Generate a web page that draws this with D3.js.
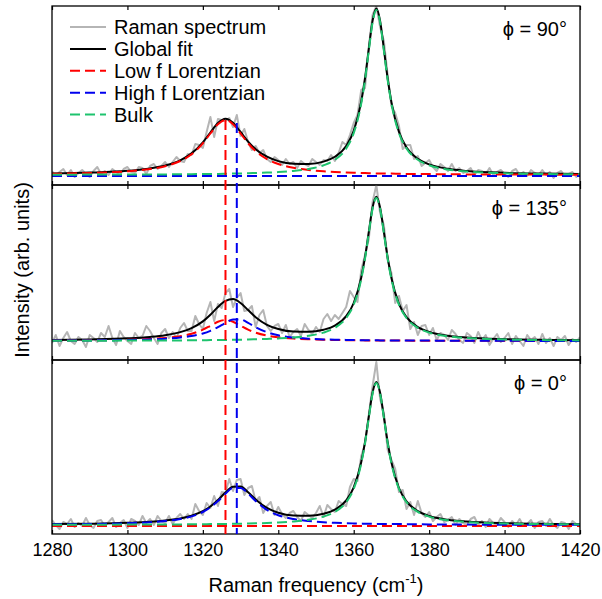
<!DOCTYPE html>
<html>
<meta charset="utf-8">
<style>
body { margin: 0; background: #fff; }
text { font-family: "Liberation Sans", Arial, Helvetica, sans-serif; fill: #000; }
.frame { fill: none; stroke: #000; stroke-width: 1.3px; }
.line { fill: none; stroke-width: 2px; stroke-linejoin: round; }
.axis path { display: none; }
.axis line { stroke: #000; stroke-width: 1.2px; }
</style>
<body>
<script src="https://d3js.org/d3.v7.min.js"></script>
<script>

// ---- data (intensity in arb. units) ----
var xTicks = [1280, 1300, 1320, 1340, 1360, 1380, 1400, 1420];
var specFreq = d3.range(1280, 1421, 1);
var fitFreq = [1280, 1290, 1300, 1306, 1310, 1314, 1317, 1320, 1322, 1324,
               1326, 1328, 1330, 1332, 1334, 1337, 1340, 1344, 1348, 1352,
               1355, 1358, 1360, 1362, 1363, 1364, 1365, 1366, 1367, 1368,
               1369, 1370, 1372, 1374, 1377, 1380, 1385, 1390, 1400, 1410, 1420];
var flatFreq = [1280, 1420];

// phi = 90
var spec90 = [4, -1, 3, 6, 0, 5, -2, 2, 5, 1,
              -2, 4, 8, 1, 4, 0, 6, 3, 0, 6,
              8, 3, 2, 8, 7, 1, 9, 11, 6, 9,
              13, 8, 13, 18, 14, 13, 21, 20, 31, 30,
              27, 43, 58, 38, 56, 55, 54, 57, 48, 60,
              39, 46, 33, 25, 29, 22, 25, 16, 13, 18,
              15, 10, 16, 11, 13, 7, 14, 11, 9, 16,
              13, 10, 15, 14, 20, 14, 22, 33, 30, 40,
              52, 60, 85, 87, 128, 160, 169, 148, 134, 100,
              69, 62, 49, 26, 30, 30, 16, 19, 9, 12,
              15, 8, 4, 11, 8, 4, 11, 4, 7, 2,
              4, 7, 0, 5, 4, 1, 7, 0, 3, 5,
              1, -2, 4, 6, 0, 3, -1, 5, 2, 0,
              5, 0, 3, -3, 2, 4, -1, 1, 3, -2,
              2];
var fit90 = [1.5, 2.4, 4.2, 6.6, 9.5, 14.7, 21.6, 32.7, 42.5, 52.0,
             56.3, 52.2, 43.0, 33.4, 25.8, 18.3, 13.9, 11.3, 11.1, 13.4,
             18.2, 29.0, 44.1, 73.5, 97.0, 126.2, 154.2, 166.6, 154.1, 125.9,
             96.5, 72.9, 43.1, 27.6, 16.2, 10.6, 6.2, 4.1, 2.2, 1.4, 1.0];
var low90 = [1.2, 2.0, 3.7, 6.0, 8.8, 14.0, 20.7, 31.7, 41.5, 50.8,
             55.0, 50.8, 41.5, 31.7, 23.8, 15.9, 11.0, 7.2, 5.1, 3.7,
             3.0, 2.5, 2.2, 2.0, 1.9, 1.8, 1.7, 1.6, 1.6, 1.5,
             1.4, 1.4, 1.2, 1.1, 1.0, 0.9, 0.8, 0.6, 0.5, 0.4, 0.3];
var high90 = [-1, -1];
var bulk90 = [0.3, 0.4, 0.5, 0.6, 0.6, 0.7, 0.8, 1.0, 1.0, 1.1,
              1.3, 1.4, 1.6, 1.7, 2.0, 2.4, 2.9, 4.1, 6.0, 9.7,
              15.2, 26.5, 41.9, 71.6, 95.1, 124.4, 152.6, 165, 152.6, 124.4,
              95.1, 71.6, 41.9, 26.5, 15.2, 9.7, 5.4, 3.4, 1.7, 1.0, 0.7];

// phi = 135
var spec135 = [-2, 6, -5, 3, 9, 0, -3, 4, 1, -6,
               6, 3, -1, 8, 4, 15, 3, -4, 10, 4,
               0, -3, 8, 3, 5, 15, 10, 3, -3, 8,
               12, 3, 9, 3, 13, 18, 10, 10, 25, 17,
               12, 28, 39, 20, 37, 33, 48, 52, 34, 43,
               48, 30, 31, 35, 14, 26, 31, 15, 10, 15,
               17, 8, 16, 4, 9, 12, 5, 17, 11, 7,
               14, 9, 22, 27, 20, 26, 22, 28, 34, 50,
               44, 39, 71, 86, 102, 139, 156, 128, 116, 81,
               68, 38, 45, 30, 36, 12, 19, 6, 15, 16,
               6, 13, 1, 8, 6, 1, 11, 7, 1, -2,
               8, 5, -2, 9, 1, 6, -4, 2, 7, -1,
               3, 8, -3, 5, 0, -5, 6, 1, 4, -3,
               7, -2, 3, -5, 4, 1, 5, -4, 2, -1,
               4];
var fit135 = [1.0, 1.6, 2.7, 4.1, 5.8, 8.9, 12.9, 19.6, 26.3, 34.0,
              40.2, 41.9, 38.0, 30.9, 23.8, 16.2, 12.0, 9.4, 9.2, 11.3,
              15.4, 24.9, 38.0, 63.5, 83.8, 109.1, 133.5, 144.2, 133.4, 108.9,
              83.5, 63.0, 37.2, 23.8, 13.9, 9.1, 5.2, 3.4, 1.8, 1.2, 0.8];
var low135 = [0.4, 0.7, 1.2, 2.0, 3.0, 4.8, 7.2, 11.3, 15.2, 19.2,
              21, 19.2, 15.2, 11.3, 8.4, 5.4, 3.7, 2.4, 1.7, 1.2,
              1.0, 0.8, 0.7, 0.7, 0.6, 0.6, 0.6, 0.5, 0.5, 0.5,
              0.5, 0.5, 0.4, 0.4, 0.3, 0.3, 0.3, 0.2, 0.2, 0.1, 0.1];
var high135 = [0.4, 0.6, 1.1, 1.6, 2.3, 3.5, 5.0, 7.5, 10.2, 13.8,
               18.1, 21.5, 21.5, 18.1, 13.8, 8.8, 5.7, 3.5, 2.3, 1.6,
               1.3, 1.1, 0.9, 0.8, 0.8, 0.7, 0.7, 0.7, 0.6, 0.6,
               0.6, 0.5, 0.5, 0.5, 0.4, 0.4, 0.3, 0.3, 0.2, 0.1, 0.1];
var bulk135 = [0.2, 0.3, 0.4, 0.5, 0.6, 0.6, 0.7, 0.8, 0.9, 1.0,
               1.1, 1.2, 1.3, 1.5, 1.7, 2.1, 2.6, 3.5, 5.2, 8.4,
               13.2, 23.0, 36.3, 62.0, 82.4, 107.8, 132.2, 143, 132.2, 107.8,
               82.4, 62.0, 36.3, 23.0, 13.2, 8.4, 4.7, 3.0, 1.5, 0.9, 0.6];

// phi = 0
var spec0 = [5, 0, -4, 3, 1, 6, -2, 2, -1, 7,
             0, -3, 4, 5, -1, 3, 7, -2, 2, 5,
             -3, 6, 4, 0, 9, 2, 6, 0, 9, 4,
             2, 9, 1, 7, 11, 6, 11, 6, 21, 14,
             10, 22, 17, 29, 19, 33, 32, 46, 34, 45,
             46, 30, 37, 39, 24, 28, 12, 19, 23, 10,
             18, 11, 7, 12, 14, 8, 4, 13, 10, 7,
             12, 19, 8, 20, 16, 13, 24, 21, 19, 38,
             46, 44, 69, 81, 110, 139, 163, 126, 112, 75,
             65, 56, 33, 35, 16, 23, 10, 24, 12, 8,
             13, 4, 8, 11, 3, 5, 8, 0, 6, 2,
             0, 6, 8, 0, 4, -2, 6, 2, 0, 7,
             3, -2, 4, 0, 6, -1, 1, 5, -3, 3,
             4, -1, 6, 0, -3, 3, 2, -4, 4, 1,
             -2];
var fit0 = [0.9, 1.3, 2.2, 3.3, 4.6, 6.6, 9.3, 13.8, 18.5, 24.9,
            32.4, 38.3, 38.4, 32.8, 25.6, 17.1, 12.3, 9.5, 9.2, 11.2,
            15.3, 24.6, 37.7, 63.0, 83.2, 108.3, 132.5, 143.1, 132.4, 108.0,
            82.9, 62.5, 37.0, 23.6, 13.8, 9.0, 5.2, 3.4, 1.8, 1.2, 0.8];
var low0 = [-1, -1];
var high0 = [0.7, 1.0, 1.8, 2.8, 4.0, 6.0, 8.6, 13.0, 17.6, 23.9,
             31.3, 37.1, 37.1, 31.3, 23.9, 15.1, 9.8, 6.0, 4.0, 2.8,
             2.2, 1.8, 1.6, 1.4, 1.3, 1.3, 1.2, 1.1, 1.1, 1.0,
             1.0, 0.9, 0.9, 0.8, 0.7, 0.6, 0.5, 0.4, 0.3, 0.2, 0.2];
var bulk0 = [0.2, 0.3, 0.4, 0.5, 0.6, 0.6, 0.7, 0.8, 0.9, 1.0,
             1.1, 1.2, 1.3, 1.5, 1.7, 2.0, 2.5, 3.5, 5.2, 8.4,
             13.1, 22.8, 36.1, 61.6, 81.9, 107.0, 131.3, 142, 131.3, 107.0,
             81.9, 61.6, 36.1, 22.8, 13.1, 8.4, 4.7, 3.0, 1.5, 0.9, 0.6];

// peak positions of the two Lorentzians (marker lines), height in top panel units
var markFreq = [1326, 1329];
var markTop = [55, 52];

var panelLabels = ["\u03D5 = 90\u00B0", "\u03D5 = 135\u00B0", "\u03D5 = 0\u00B0"];
var legendLabels = ["Raman spectrum", "Global fit", "Low f Lorentzian", "High f Lorentzian", "Bulk"];

// ---- styles / layout ----
var colors = { spec: "#b5b5b5", fit: "#000000", low: "#ff0000", high: "#0000ee", bulk: "#1ec36e" };
var dash = "10,5";
var left = 52, right = 580;
var layout = [
  { top: 6,   bottom: 185, domain: [-10, 169] },
  { top: 185, bottom: 360, domain: [-19, 156] },
  { top: 360, bottom: 534, domain: [-9, 165] }
];

var panels = [
  { label: panelLabels[0], spec: spec90, fit: fit90, low: low90, lowX: fitFreq, high: high90, highX: flatFreq, bulk: bulk90 },
  { label: panelLabels[1], spec: spec135, fit: fit135, low: low135, lowX: fitFreq, high: high135, highX: fitFreq, bulk: bulk135 },
  { label: panelLabels[2], spec: spec0, fit: fit0, low: low0, lowX: flatFreq, high: high0, highX: fitFreq, bulk: bulk0 }
];

var svg = d3.select("body").append("svg")
    .attr("width", 602)
    .attr("height", 599);

var x = d3.scaleLinear().domain([1280, 1420]).range([left, right]);

function zip(xs, ys) {
  return ys.map(function(v, i) { return [xs[i], v]; });
}

var yScales = [];

panels.forEach(function(p, i) {
  var L = layout[i];
  var y = d3.scaleLinear().domain(L.domain).range([L.bottom, L.top]);
  yScales.push(y);

  var clipId = "clip" + i;
  svg.append("clipPath").attr("id", clipId)
    .append("rect")
      .attr("x", left).attr("y", L.top)
      .attr("width", right - left).attr("height", L.bottom - L.top);

  var g = svg.append("g").attr("clip-path", "url(#" + clipId + ")");

  var raw = d3.line()
      .x(function(d) { return x(d[0]); })
      .y(function(d) { return y(d[1]); });
  var smooth = d3.line()
      .curve(d3.curveMonotoneX)
      .x(function(d) { return x(d[0]); })
      .y(function(d) { return y(d[1]); });

  g.append("path").attr("class", "line")
      .style("stroke", colors.spec)
      .attr("d", raw(zip(specFreq, p.spec)));
  g.append("path").attr("class", "line")
      .style("stroke", colors.fit)
      .attr("d", smooth(zip(fitFreq, p.fit)));
  g.append("path").attr("class", "line")
      .style("stroke", colors.low).style("stroke-dasharray", dash)
      .attr("d", smooth(zip(p.lowX, p.low)));
  g.append("path").attr("class", "line")
      .style("stroke", colors.high).style("stroke-dasharray", dash)
      .attr("d", smooth(zip(p.highX, p.high)));
  g.append("path").attr("class", "line")
      .style("stroke", colors.bulk).style("stroke-dasharray", dash)
      .attr("d", smooth(zip(fitFreq, p.bulk)));

  // inward ticks top and bottom
  svg.append("g").attr("class", "axis")
      .attr("transform", "translate(0," + L.top + ")")
      .call(d3.axisTop(x).tickValues(xTicks).tickSizeInner(-4).tickSizeOuter(0).tickFormat(""));
  var bottomAxis = d3.axisBottom(x).tickValues(xTicks).tickSizeInner(-4).tickSizeOuter(0);
  if (i < 2) bottomAxis.tickFormat("");
  else bottomAxis.tickFormat(d3.format("d")).tickPadding(9);
  var ba = svg.append("g").attr("class", "axis")
      .attr("transform", "translate(0," + L.bottom + ")")
      .call(bottomAxis);
  ba.selectAll("text")
      .style("font-size", "18px")
      .style("font-family", "'Liberation Sans', Arial, sans-serif")
      .attr("fill", "#000");

  svg.append("rect").attr("class", "frame")
      .attr("x", left).attr("y", L.top)
      .attr("width", right - left).attr("height", L.bottom - L.top);

  svg.append("text")
      .attr("x", 567)
      .attr("y", L.top + 30)
      .attr("text-anchor", "end")
      .style("font-size", "20px")
      .text(p.label);
});

// dashed marker lines running through all panels
var yTop = yScales[0];
markFreq.forEach(function(f, i) {
  svg.append("line")
      .attr("x1", x(f)).attr("x2", x(f))
      .attr("y1", yTop(markTop[i])).attr("y2", layout[2].bottom)
      .style("stroke", i === 0 ? colors.low : colors.high)
      .style("stroke-width", 2)
      .style("stroke-dasharray", dash);
});

// legend
var legendKeys = ["spec", "fit", "low", "high", "bulk"];
legendKeys.forEach(function(k, i) {
  var ly = 27 + i * 21.9;
  svg.append("line")
      .attr("x1", 70).attr("x2", 106)
      .attr("y1", ly).attr("y2", ly)
      .style("stroke", colors[k])
      .style("stroke-width", 2)
      .style("stroke-dasharray", (k === "spec" || k === "fit") ? null : dash);
  svg.append("text")
      .attr("x", 114).attr("y", ly + 7)
      .style("font-size", "20px")
      .text(legendLabels[i]);
});

// axis titles
var xt = svg.append("text")
    .attr("x", (left + right) / 2)
    .attr("y", 592)
    .attr("text-anchor", "middle")
    .style("font-size", "20px");
xt.append("tspan").text("Raman frequency (cm");
xt.append("tspan").attr("dy", -9).style("font-size", "13px").text("-1");
xt.append("tspan").attr("dy", 9).text(")");

svg.append("text")
    .attr("transform", "translate(29," + ((layout[0].top + layout[2].bottom) / 2) + ") rotate(-90)")
    .attr("text-anchor", "middle")
    .style("font-size", "20px")
    .text("Intensity (arb. units)");

</script>
</body>
</html>
